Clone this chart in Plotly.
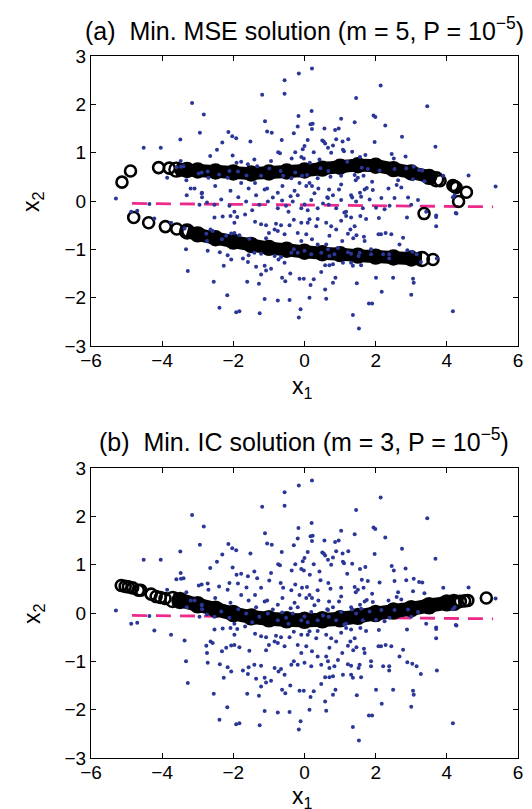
import plotly.graph_objects as go

# ---------------- data ----------------
dots = [
(0.21,2.74),(-0.16,2.64),(-0.56,2.50),(-0.56,2.22),(-1.19,2.20),(2.14,2.39),(1.45,2.13),(-3.16,2.03),
(3.45,1.96),(0.20,1.86),(-2.83,1.79),(1.03,1.70),(1.94,1.77),(1.99,1.74),(-0.17,1.76),(-1.11,1.65),
(0.23,1.60),(0.17,1.59),(1.41,1.63),(2.27,1.56),(-0.19,1.54),(0.56,1.50),(0.96,1.50),(0.21,1.49),
(-2.94,1.41),(-2.14,1.43),(-1.05,1.44),(-0.92,1.41),(-2.03,1.34),(-1.92,1.30),(2.74,1.33),(-0.30,1.40),
(0.86,1.47),(-3.49,1.27),(3.68,1.12),(-4.52,1.10),(-4.04,1.10),(0.50,1.25),(0.54,1.23),(0.09,1.26),
(-0.64,1.26),(-1.52,1.23),(-2.31,1.21),(-2.46,1.06),(0.58,1.19),(0.66,1.10),(0.80,1.15),(1.08,1.06),
(0.89,1.28),(1.23,1.28),(1.07,1.23),(1.97,1.22),(0.00,1.14),(-0.74,1.01),(-0.69,0.99),(-0.05,1.07),
(-0.26,1.01),(0.26,1.01),(0.75,1.00),(1.11,1.03),(1.34,1.02),(1.71,0.95),(2.45,0.97),(2.51,0.88),
(2.84,0.92),(1.56,0.91),(-2.02,0.94),(-2.65,0.93),(-3.48,0.83),(-1.91,0.79),(-1.78,0.81),(-1.59,0.76),
(-1.41,0.86),(-1.33,0.72),(-0.94,0.83),(-0.36,0.88),(-0.09,0.91),(-0.02,0.88),(0.15,0.79),(0.42,0.86),
(1.20,0.81),(2.11,0.63),(2.53,0.66),(2.86,0.68),(3.07,0.71),(3.22,0.64),(3.31,0.63),(3.90,0.52),
(4.61,0.53),(1.78,0.66),(1.61,0.69),(1.66,0.52),(1.41,0.54),(1.50,0.48),(1.44,0.43),(1.03,0.52),
(0.67,0.62),(0.45,0.68),(0.37,0.47),(0.73,0.50),(0.07,0.54),(-0.07,0.52),(-0.26,0.59),(-0.37,0.47),
(-0.60,0.52),(-0.67,0.62),(-0.99,0.67),(-1.22,0.52),(-1.63,0.53),(-1.87,0.61),(-2.11,0.62),(-2.72,0.61),
(-2.89,0.59),(-2.97,0.57),(-2.70,0.48),(-3.47,0.71),(-3.40,0.72),(-3.32,0.43),(-3.86,0.48),(-2.16,0.48),
(3.37,0.41),(3.05,0.45),(2.63,0.43),(2.59,0.33),(2.36,0.26),(2.72,0.28),(1.92,0.23),(1.75,0.27),
(1.69,0.24),(1.56,0.17),(1.34,0.07),(1.03,0.34),(0.97,0.24),(0.69,0.24),(0.64,0.08),(0.39,0.26),
(0.21,0.31),(0.14,0.37),(0.05,0.31),(-0.14,0.37),(-0.28,0.21),(-0.39,0.10),(-0.62,0.31),(-0.75,0.17),
(-1.05,0.26),(-1.12,0.24),(-1.39,0.37),(-1.57,0.26),(-1.78,0.37),(-2.08,0.21),(-2.51,0.31),(-3.09,0.26),
(-2.89,0.16),(-5.30,0.05),(-4.36,-0.06),(-4.87,-0.22),(-4.22,-0.36),(-3.75,-0.45),(-3.37,-0.57),(5.37,0.30),
(4.25,-0.25),(4.17,0.08),(3.70,-0.33),(3.70,-0.52),(2.88,-0.34),(2.09,-0.35),(2.25,-0.17),(2.39,-0.10),
(1.73,-0.37),(1.57,-0.31),(1.41,-0.52),(1.31,-0.34),(1.17,-0.31),(1.12,-0.24),(1.03,-0.41),(0.89,-0.59),
(0.75,-0.52),(0.61,-0.45),(0.37,-0.37),(0.33,-0.52),(0.09,-0.45),(0.14,-0.38),(-0.09,-0.45),(-0.30,-0.39),
(-0.42,-0.50),(-0.66,-0.50),(-0.80,-0.47),(-0.84,-0.59),(-1.08,-0.50),(-1.22,-0.48),(-1.39,-0.43),(-1.67,-0.28),
(-1.89,-0.33),(-1.97,-0.45),(-2.08,-0.31),(-2.30,-0.32),(-2.53,-0.34),(-2.64,-0.59),(-2.76,-0.68),(-2.74,-0.83),
(-2.72,-1.03),(-2.58,-0.62),(-2.32,-0.79),(-2.20,-0.72),(-2.06,-0.67),(-1.97,-0.66),(-1.83,-0.71),(-1.55,-0.78),
(-1.08,-0.77),(-1.00,-0.66),(-0.75,-0.62),(-0.56,-0.69),(-0.19,-0.66),(-0.09,-0.83),(0.05,-0.69),(0.21,-0.79),
(0.37,-0.90),(0.61,-0.90),(0.70,-0.72),(1.06,-0.83),(1.22,-0.68),(1.29,-0.59),(1.37,-0.77),(1.46,-0.71),
(1.67,-0.74),(1.69,-0.83),(2.08,-0.69),(2.15,-0.69),(2.28,-0.66),(2.44,-0.69),(2.67,-0.90),(2.77,-0.76),
(2.89,-1.02),(3.03,-1.05),(3.15,-1.10),(3.27,-1.26),(3.72,-1.19),(2.38,-1.10),(2.38,-1.19),(2.21,-1.10),
(1.87,-1.00),(1.87,-1.10),(1.55,-1.07),(1.52,-1.14),(1.31,-1.09),(1.22,-1.06),(0.94,-0.97),(0.84,-1.10),
(0.66,-1.00),(0.70,-1.14),(0.47,-1.07),(0.19,-1.10),(0.00,-1.03),(-0.19,-1.07),(-0.30,-1.00),(-0.37,-1.07),
(-0.66,-1.16),(-0.73,-1.21),(-0.56,-1.28),(-0.84,-1.14),(-0.94,-1.40),(-1.08,-1.44),(-1.12,-1.34),(-1.22,-1.52),
(-1.22,-1.09),(-1.41,-1.07),(-1.36,-1.36),(-1.57,-1.12),(-1.73,-1.19),(-2.06,-1.21),(-2.16,-1.12),(-2.27,-1.34),
(-2.38,-1.06),(-2.55,-1.67),(-3.28,-1.45),(-3.33,-1.00),(-1.59,-1.26),(-1.61,-1.67),(-1.28,-1.71),(-1.12,-2.03),
(-1.26,-2.32),(-0.75,-2.06),(-0.63,-1.59),(-0.54,-1.66),(-0.40,-1.50),(-0.42,-2.05),(-0.14,-1.61),(-0.02,-1.61),
(-0.11,-2.24),(-0.16,-2.41),(0.17,-1.74),(0.14,-2.00),(0.26,-1.62),(0.47,-1.47),(0.58,-1.83),(0.61,-2.02),
(0.58,-1.33),(0.70,-1.33),(0.80,-1.31),(0.80,-1.69),(0.87,-1.59),(1.08,-1.28),(1.31,-1.28),(1.36,-1.34),
(1.47,-1.70),(1.59,-1.33),(1.81,-2.12),(1.90,-2.12),(2.01,-1.59),(2.17,-1.88),(2.49,-1.59),(1.36,-2.36),
(1.53,-2.64),(3.00,-1.94),(3.05,-1.61),(3.07,-1.69),(4.17,-2.28),(-1.92,-2.30),(-1.83,-2.28),(-2.17,-1.95),
(-2.39,-2.21),(-3.31,0.12),(-2.88,0.08),(-2.95,-0.08),(-2.88,0.17),(-3.20,0.26),(-2.74,-0.03),(-2.53,-0.08),
(-2.34,0.03),(-2.11,-0.10),(-1.97,-0.22),(-1.86,0.08),(-1.64,-0.01),(-1.47,-0.19),(-1.36,0.12),(-1.27,-0.08),
(-1.03,-0.01),(-0.89,0.07),(-0.75,-0.15),(-0.63,0.01),(-0.52,-0.10),(-0.45,-0.22),(-0.33,-0.01),(-0.19,0.12),
(-0.09,-0.15),(0.00,-0.07),(0.09,-0.19),(0.19,0.02),(0.28,0.16),(0.37,-0.15),(0.52,-0.05),(0.66,0.06),
(0.68,-0.08),(0.80,0.12),(0.89,-0.15),(1.03,0.02),(1.17,-0.22),(1.31,0.12),(1.45,-0.01),(1.59,0.09),
(1.64,-0.15),(1.83,0.03),(2.01,-0.14),(2.16,0.06),(2.53,0.06),(2.91,0.07),(3.19,0.02),(3.00,-0.08),
(3.42,-0.22),(4.22,0.12),(4.27,-0.26),(3.70,-0.30),(-4.70,-0.20),(-3.60,0.70),(-2.40,0.55),(1.90,0.40),
]
dots_x = [p[0] for p in dots]
dots_y = [p[1] for p in dots]

# panel (a): minimum-MSE solution, two branches
a_up_band_x = [-3.6, -3.3, -3.0, -2.5, -2.0, -1.5, -1.0, -0.5, 0.0, 0.5, 1.0, 1.5, 2.0, 2.5, 3.0, 3.5, 3.7]
a_up_band_y = [0.65, 0.64, 0.63, 0.61, 0.59, 0.57, 0.59, 0.61, 0.63, 0.67, 0.71, 0.74, 0.73, 0.66, 0.59, 0.50, 0.45]
a_up_circ_x = [-5.13, -4.89, -4.10, -3.80, -3.47, 3.81, 4.17, 4.22, 4.26, 4.55, 4.33, 3.36]
a_up_circ_y = [0.39, 0.62, 0.69, 0.68, 0.64, 0.42, 0.32, 0.30, 0.28, 0.18, -0.01, -0.26]

a_lo_band_x = [-3.3, -3.0, -2.5, -2.0, -1.5, -1.0, -0.5, 0.0, 0.5, 1.0, 1.5, 2.0, 2.5, 3.0, 3.3]
a_lo_band_y = [-0.63, -0.69, -0.77, -0.84, -0.91, -0.97, -1.01, -1.05, -1.08, -1.10, -1.13, -1.15, -1.17, -1.19, -1.20]
a_lo_circ_x = [-4.80, -4.38, -3.91, -3.59, -3.28, 3.61]
a_lo_circ_y = [-0.34, -0.45, -0.53, -0.58, -0.63, -1.21]

# panel (b): minimum-IC solution, single branch
b_band_x = [-3.7, -3.5, -3.0, -2.5, -2.0, -1.5, -1.0, -0.5, 0.0, 0.5, 1.0, 1.5, 2.0, 2.5, 3.0, 3.5, 4.0, 4.2]
b_band_y = [0.28, 0.26, 0.17, 0.08, -0.01, -0.08, -0.12, -0.14, -0.15, -0.14, -0.12, -0.07, -0.01, 0.04, 0.09, 0.15, 0.21, 0.22]
b_circ_x = [-5.15, -5.04, -4.95, -4.83, -4.67, -4.60, -4.31, -4.17, -4.05, -3.92, 4.22, 4.38, 4.50, 4.59, 5.11]
b_circ_y = [0.57, 0.55, 0.54, 0.52, 0.47, 0.47, 0.39, 0.34, 0.32, 0.30, 0.22, 0.24, 0.25, 0.26, 0.31]

# first principal component line (dashed)
pc_x = [-4.85, 5.30]
pc_y = [-0.05, -0.12]

x_ticks = [-6, -4, -2, 0, 2, 4, 6]
y_ticks = [-3, -2, -1, 0, 1, 2, 3]
titles = ["(a)  Min. MSE solution (m = 5, P = 10<sup>\u22125</sup>)",
          "(b)  Min. IC solution (m = 3, P = 10<sup>\u22125</sup>)"]

# ---------------- styles ----------------
DOT = "#2b3797"
PINK = "#ec2a8c"
FONT = "Liberation Sans, Arial, Helvetica, sans-serif"

fig = go.Figure()

def add_panel(xa, ya, bands, circles, bw):
    fig.add_trace(go.Scatter(x=pc_x, y=pc_y, mode="lines", xaxis=xa, yaxis=ya,
                             line=dict(color=PINK, width=2.8, dash="15px,9px"), showlegend=False))
    for bx, by in bands:
        fig.add_trace(go.Scatter(x=bx, y=by, mode="lines+markers", xaxis=xa, yaxis=ya,
                                 line=dict(color="black", width=bw, shape="spline"),
                                 marker=dict(symbol="circle-open", size=bw + 1, color="black",
                                             line=dict(width=2.4)), showlegend=False))
    for cx, cy in circles:
        fig.add_trace(go.Scatter(x=cx, y=cy, mode="markers", xaxis=xa, yaxis=ya,
                                 marker=dict(symbol="circle-open", size=11, color="black",
                                             line=dict(width=2.6)), showlegend=False))
    fig.add_trace(go.Scatter(x=dots_x, y=dots_y, mode="markers", xaxis=xa, yaxis=ya,
                             marker=dict(size=4, color=DOT), showlegend=False))

add_panel("x", "y",
          [(a_up_band_x, a_up_band_y), (a_lo_band_x, a_lo_band_y)],
          [(a_up_circ_x, a_up_circ_y), (a_lo_circ_x, a_lo_circ_y)], 13)
add_panel("x2", "y2",
          [(b_band_x, b_band_y)],
          [(b_circ_x, b_circ_y)], 14)

axis_common = dict(showline=True, linecolor="black", linewidth=1, mirror="ticks",
                   ticks="inside", ticklen=5, tickcolor="black", showgrid=False,
                   zeroline=False, tickfont=dict(size=19, color="black", family=FONT))
xaxis_extra = dict(ticklabelstandoff=-3)

top_dom = [1 - 290 / 702, 1]
bot_dom = [0, 290 / 702]

fig.update_layout(
    width=532, height=809,
    margin=dict(l=83, r=22, t=48, b=59),
    paper_bgcolor="white", plot_bgcolor="white",
    font=dict(family=FONT, color="black"),
    xaxis=dict(axis_common, **xaxis_extra, range=[-6, 6], tickvals=x_ticks, domain=[0, 1], anchor="y"),
    yaxis=dict(axis_common, range=[-3, 3], tickvals=y_ticks, domain=top_dom, anchor="x"),
    xaxis2=dict(axis_common, **xaxis_extra, range=[-6, 6], tickvals=x_ticks, domain=[0, 1], anchor="y2"),
    yaxis2=dict(axis_common, range=[-3, 3], tickvals=y_ticks, domain=bot_dom, anchor="x2"),
)

def px_to_paper_y(py):
    return 1 - (py - 48) / 702

def px_to_paper_x(px):
    return (px - 83) / 427

annots = [
    dict(text=titles[0], x=px_to_paper_x(296), y=px_to_paper_y(21), size=25),
    dict(text=titles[1], x=px_to_paper_x(296), y=px_to_paper_y(432), size=25),
    dict(text="x<sub>1</sub>", x=px_to_paper_x(294), y=px_to_paper_y(379), size=23),
    dict(text="x<sub>1</sub>", x=px_to_paper_x(294), y=px_to_paper_y(789), size=23),
    dict(text="x<sub>2</sub>", x=px_to_paper_x(25), y=px_to_paper_y(193), size=23, angle=-90),
    dict(text="x<sub>2</sub>", x=px_to_paper_x(25), y=px_to_paper_y(605), size=23, angle=-90),
]
for a in annots:
    fig.add_annotation(text=a["text"], x=a["x"], y=a["y"], xref="paper", yref="paper",
                       showarrow=False, xanchor="center", yanchor="middle",
                       textangle=a.get("angle", 0),
                       font=dict(size=a["size"], color="black", family=FONT))

fig.write_html("out.html")
